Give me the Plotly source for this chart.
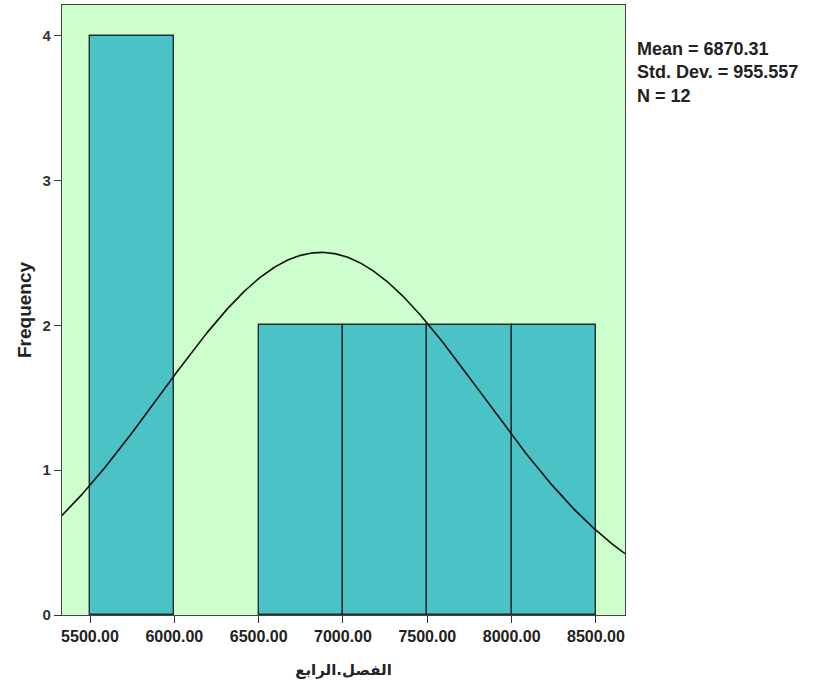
import numpy as np
import plotly.graph_objects as go

# Histogram bins (lower edges) and their frequencies
bin_starts = [5500, 6000, 6500, 7000, 7500, 8000]
bin_counts = [4, 0, 2, 2, 2, 2]
bin_width = 500

# Summary statistics shown beside the plot
mean_val = 6870.31
std_dev = 955.557
n_obs = 12

x_ticks = [5500, 6000, 6500, 7000, 7500, 8000, 8500]
y_ticks = [0, 1, 2, 3, 4]
x_range = [5334, 8672]
y_range = [0, 4.214]

# Only non-empty bins get a drawn bar
bars = [(s + bin_width / 2, c) for s, c in zip(bin_starts, bin_counts) if c > 0]
centers = [b[0] for b in bars]
heights = [b[1] for b in bars]

fig = go.Figure()
fig.add_trace(go.Bar(
    x=centers, y=heights, width=[bin_width] * len(centers),
    marker=dict(color="#4AC2C6", line=dict(color="#1e2e2e", width=1.4)),
    hoverinfo="skip",
))

# Normal curve scaled to the histogram counts
xs = np.linspace(x_range[0], x_range[1], 400)
ys = n_obs * bin_width / (std_dev * np.sqrt(2 * np.pi)) * np.exp(-0.5 * ((xs - mean_val) / std_dev) ** 2)
fig.add_trace(go.Scatter(x=xs, y=ys, mode="lines",
                         line=dict(color="#111111", width=1.6), hoverinfo="skip"))

sans = "Liberation Sans, Arial, sans-serif"

fig.update_layout(
    width=818, height=687,
    margin=dict(l=62, r=193, t=5, b=72),
    paper_bgcolor="white",
    plot_bgcolor="#CCFFCC",
    showlegend=False,
    bargap=0,
    xaxis=dict(
        range=x_range, tickvals=x_ticks,
        ticktext=[f"<b>{v:.2f}</b>" for v in x_ticks],
        tickfont=dict(family=sans, size=16, color="#222222"),
        ticks="outside", ticklen=7, tickwidth=1.4, tickcolor="#333333",
        showgrid=False, zeroline=False,
        showline=True, linecolor="#444444", linewidth=1.4, mirror=True,
        title=dict(text="<b>الفصل.الرابع</b>", font=dict(family="DejaVu Sans, sans-serif", size=15, color="#222222"), standoff=20),
    ),
    yaxis=dict(
        range=y_range, tickvals=y_ticks,
        ticktext=[f"<b>{v}</b>" for v in y_ticks],
        tickfont=dict(family=sans, size=15, color="#333333"),
        ticks="outside", ticklen=7, tickwidth=1.4, tickcolor="#333333",
        showgrid=False, zeroline=False,
        showline=True, linecolor="#444444", linewidth=1.4, mirror=True,
        title=dict(text="<b>Frequency</b>", font=dict(family=sans, size=19, color="#222222"), standoff=5),
    ),
    annotations=[dict(
        xref="paper", yref="paper", x=1.018, y=0.948, xanchor="left", yanchor="top",
        align="left", showarrow=False,
        text=f"<b>Mean = {mean_val:.2f}<br>Std. Dev. = {std_dev:.3f}<br>N = {n_obs}</b>",
        font=dict(family=sans, size=18, color="#222222"),
    )],
)

fig.write_html("out.html")
